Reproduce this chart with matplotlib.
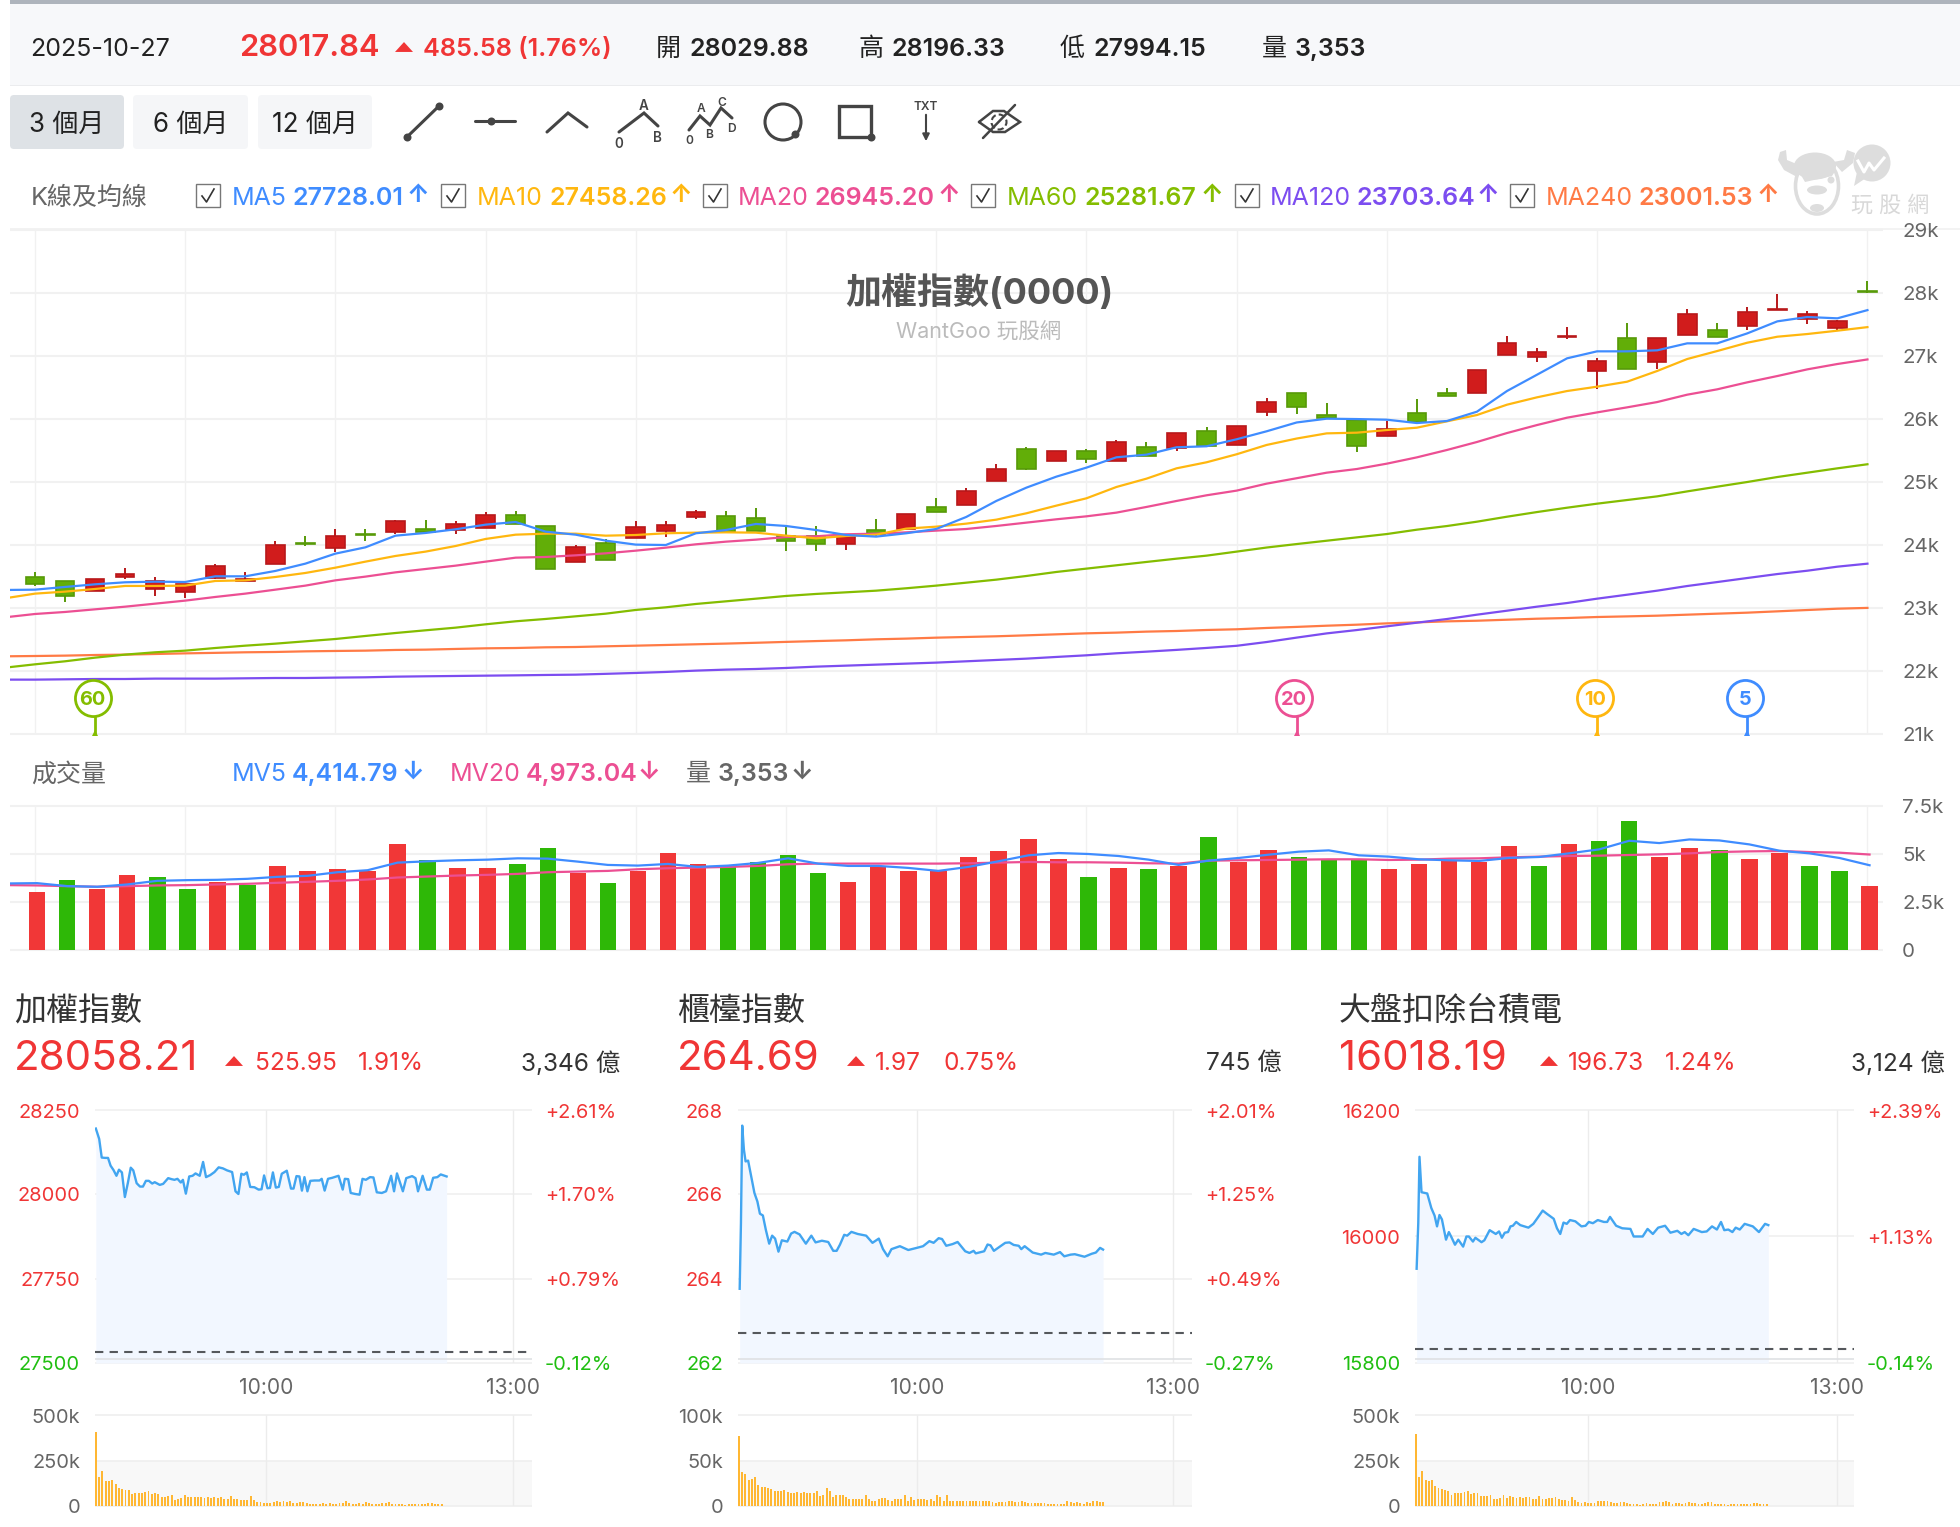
import numpy as np
import matplotlib
matplotlib.use('Agg')
import matplotlib.pyplot as plt
from matplotlib.patches import Rectangle, FancyBboxPatch, Ellipse, Polygon

plt.rcParams['font.family'] = ['Inter', 'Noto Sans CJK TC', 'DejaVu Sans']

W, H = 1960, 1527

RED = '#f03535'
GREEN = '#1fbf10'
C_MA5 = '#3f8cff'
C_MA10 = '#ffb70f'
C_MA20 = '#ec4f93'
C_MA60 = '#84bd00'
C_MA120 = '#7c4df0'
C_MA240 = '#ff7a45'
GRID = '#f1f1f1'

# daily k-line data
opens = [23487, 23424, 23270, 23498, 23302, 23249, 23476, 23434, 23699, 24027, 23958, 24170, 24207, 24260, 24238, 24270,
         24482, 24307, 23730, 24027, 24106, 24217, 24450, 24466, 24434, 24143, 24143, 24016, 24238, 24249, 24609, 24641,
         25016, 25524, 25334, 25498, 25334, 25551, 25535, 25805, 25593, 26106, 26408, 26063, 25984, 25730, 26095, 26407,
         26418, 27015, 26989, 27301, 26762, 27291, 26904, 27328, 27407, 27476, 27735, 27592, 27444, 28029.88]
closes = [23387, 23191, 23455, 23545, 23424, 23387, 23662, 23461, 23995, 24011, 24143, 24159, 24376, 24212, 24339, 24482,
          24328, 23619, 23969, 23762, 24281, 24318, 24524, 24212, 24217, 24069, 24016, 24143, 24170, 24492, 24529, 24863,
          25212, 25212, 25492, 25360, 25635, 25413, 25778, 25567, 25889, 26265, 26186, 26015, 25566, 25836, 25957, 26359,
          26777, 27206, 27063, 27322, 26915, 26793, 27291, 27661, 27301, 27693, 27746, 27661, 27550, 28017.84]
highs = [23572, 23424, 23455, 23630, 23487, 23387, 23693, 23572, 24059, 24143, 24260, 24260, 24402, 24402, 24376, 24519,
         24545, 24307, 24000, 24090, 24381, 24387, 24556, 24535, 24582, 24302, 24297, 24170, 24408, 24492, 24752, 24900,
         25291, 25556, 25492, 25524, 25672, 25635, 25778, 25868, 25889, 26328, 26408, 26259, 25984, 25963, 26322, 26497,
         26777, 27322, 27127, 27465, 26973, 27529, 27291, 27751, 27529, 27783, 27984, 27719, 27576, 28196.33]
lows = [23355, 23096, 23270, 23466, 23185, 23154, 23466, 23424, 23699, 23979, 23894, 24069, 24175, 24212, 24175, 24270,
        24328, 23619, 23730, 23762, 24106, 24133, 24418, 24212, 24217, 23900, 23900, 23921, 24143, 24249, 24529, 24641,
        25016, 25186, 25334, 25302, 25334, 25413, 25498, 25567, 25593, 26048, 26074, 26015, 25476, 25730, 25957, 26359,
        26418, 27015, 26904, 27269, 26471, 26793, 26793, 27328, 27301, 27412, 27735, 27502, 27402, 27994.15]

# moving averages, first entry is the session before the window
ma5 = [23286, 23291, 23334, 23376, 23408, 23418, 23413, 23503, 23503, 23588, 23704, 23863, 23963, 24148, 24191, 24249,
       24323, 24365, 24212, 24164, 24069, 24006, 24000, 24186, 24238, 24334, 24302, 24238, 24159, 24133, 24186, 24254,
       24445, 24699, 24910, 25085, 25228, 25392, 25434, 25551, 25567, 25678, 25805, 25945, 26005, 25999, 25989, 25936,
       25968, 26116, 26444, 26703, 26963, 27074, 27074, 27090, 27201, 27201, 27359, 27550, 27619, 27598, 27728.01]
ma10 = [23154, 23228, 23260, 23302, 23350, 23350, 23355, 23429, 23439, 23492, 23556, 23640, 23736, 23826, 23895, 23984,
        24096, 24164, 24180, 24180, 24148, 24159, 24186, 24196, 24201, 24196, 24149, 24106, 24143, 24164, 24260, 24291,
        24339, 24402, 24503, 24625, 24741, 24921, 25053, 25217, 25313, 25440, 25588, 25690, 25772, 25783, 25825, 25862,
        25963, 26063, 26227, 26344, 26444, 26513, 26592, 26762, 26952, 27079, 27211, 27306, 27349, 27402, 27458.26]
ma20 = [22852, 22905, 22937, 22979, 23021, 23069, 23117, 23175, 23228, 23291, 23355, 23439, 23498, 23566, 23619, 23672,
        23736, 23799, 23810, 23836, 23868, 23910, 23958, 24011, 24053, 24085, 24127, 24138, 24170, 24180, 24201, 24228,
        24254, 24302, 24355, 24408, 24455, 24514, 24604, 24699, 24789, 24863, 24974, 25060, 25148, 25206, 25291, 25391,
        25508, 25635, 25777, 25904, 26021, 26105, 26185, 26269, 26386, 26471, 26582, 26682, 26788, 26873, 26945.20]
ma60 = [22053, 22106, 22154, 22212, 22260, 22297, 22323, 22365, 22402, 22434, 22471, 22508, 22556, 22603, 22646, 22688,
        22741, 22789, 22826, 22868, 22910, 22969, 23011, 23064, 23106, 23148, 23191, 23223, 23249, 23275, 23313, 23355,
        23402, 23450, 23508, 23572, 23625, 23678, 23731, 23783, 23831, 23895, 23960, 24015, 24068, 24121, 24174, 24243,
        24301, 24370, 24449, 24523, 24592, 24656, 24714, 24772, 24851, 24926, 25000, 25079, 25148, 25217, 25281.67]
ma120 = [21863, 21863, 21868, 21873, 21873, 21879, 21879, 21879, 21884, 21889, 21889, 21895, 21900, 21910, 21916, 21921,
         21926, 21931, 21937, 21942, 21955, 21969, 21985, 22006, 22022, 22032, 22048, 22069, 22085, 22101, 22117, 22133,
         22154, 22175, 22196, 22223, 22249, 22281, 22307, 22335, 22366, 22400, 22460, 22530, 22597, 22650, 22709, 22767,
         22825, 22894, 22957, 23021, 23079, 23148, 23211, 23275, 23349, 23412, 23476, 23539, 23592, 23656, 23703.64]
ma240 = [22233, 22238, 22244, 22254, 22260, 22270, 22280, 22288, 22297, 22302, 22312, 22318, 22323, 22334, 22339, 22350,
         22360, 22365, 22376, 22381, 22392, 22402, 22413, 22424, 22435, 22448, 22462, 22475, 22487, 22503, 22514, 22529,
         22540, 22551, 22566, 22582, 22598, 22609, 22625, 22635, 22651, 22662, 22683, 22700, 22719, 22735, 22756, 22772,
         22788, 22798, 22814, 22830, 22841, 22857, 22867, 22878, 22894, 22910, 22926, 22947, 22968, 22989, 23001.53]

# daily volume; colour flag: 1 = red bar, 0 = green bar
volume = [3000, 3655, 3190, 3930, 3827, 3190, 3551, 3379, 4396, 4120, 4206, 4120, 5500, 4672, 4293, 4293, 4482, 5327,
          4017, 3465, 4120, 5051, 4482, 4396, 4569, 4948, 4017, 3551, 4396, 4120, 4120, 4862, 5137, 5793, 4758, 3827,
          4293, 4206, 4396, 5879, 4586, 5224, 4862, 4758, 4758, 4206, 4482, 4672, 4586, 5413, 4396, 5500, 5689, 6724,
          4862, 5327, 5224, 4758, 5034, 4396, 4120, 3353]
vol_up = [1, 0, 1, 1, 0, 0, 1, 0, 1, 1, 1, 1, 1, 0, 1, 1, 0, 0, 1, 0, 1, 1, 1, 0, 0, 0, 0, 1, 1, 1, 1, 1, 1, 1, 1, 0, 1,
          0, 1, 0, 1, 1, 0, 0, 0, 1, 1, 1, 1, 1, 0, 1, 0, 0, 1, 1, 0, 1, 1, 0, 0, 1]
mv5 = [3465, 3482, 3327, 3293, 3414, 3603, 3638, 3655, 3707, 3810, 3862, 4051, 4155, 4551, 4620, 4672, 4706, 4775, 4758,
       4603, 4431, 4396, 4482, 4327, 4396, 4534, 4775, 4500, 4379, 4379, 4276, 4120, 4327, 4620, 4931, 5051, 5000, 4896,
       4706, 4431, 4655, 4793, 4965, 5120, 5189, 4931, 4862, 4724, 4672, 4638, 4793, 4845, 5034, 5241, 5689, 5569, 5758,
       5706, 5500, 5172, 5034, 4793, 4414.79]
mv20 = [3379, 3362, 3327, 3293, 3327, 3362, 3379, 3414, 3448, 3500, 3551, 3603, 3672, 3776, 3827, 3879, 3914, 3965, 4051,
        4086, 4120, 4206, 4258, 4293, 4327, 4379, 4465, 4500, 4500, 4500, 4500, 4500, 4517, 4551, 4586, 4569, 4569, 4551,
        4517, 4500, 4655, 4672, 4689, 4706, 4724, 4724, 4689, 4706, 4758, 4775, 4827, 4862, 4896, 4913, 4948, 4982, 5034,
        5103, 5137, 5155, 5103, 5069, 4973.04]

grid_days = [0, 5, 10, 15, 20, 25, 30, 35, 40, 45, 52, 61]
price_ticks = [21000, 22000, 23000, 24000, 25000, 26000, 27000, 28000, 29000]
price_labels = ['21k', '22k', '23k', '24k', '25k', '26k', '27k', '28k', '29k']
vol_ticks = [0, 2500, 5000, 7500]
vol_labels = ['0', '2.5k', '5k', '7.5k']

# intraday panels
p1_t = [0, 8, 14, 22, 29, 35, 42, 49, 55, 62, 69, 76, 83, 89, 97, 105, 112, 119, 126, 134, 140, 152, 160, 172, 180, 187,
        194, 202, 207, 214, 222, 230, 237, 247, 255, 262, 272, 282, 292, 302, 312, 324, 332, 339, 346, 352, 359, 367,
        377, 387, 394, 400, 408, 414, 421, 428, 435, 442, 454, 464, 470, 477, 484, 490, 496, 503, 510, 520, 532, 537,
        544, 552, 562, 577, 587, 592, 600, 606, 617, 627, 634, 642, 652, 660, 668, 680, 690, 702, 709, 716, 730, 738,
        752, 760, 766, 777, 787, 794, 802, 812, 820, 834]
p1_v = [28195, 28164, 28109, 28108, 28108, 28085, 28072, 28055, 28073, 28065, 27992, 28033, 28079, 28071, 28033, 28023,
        28023, 28040, 28040, 28032, 28036, 28028, 28031, 28048, 28045, 28043, 28046, 28035, 28043, 28002, 28053, 28055,
        28062, 28055, 28096, 28051, 28057, 28066, 28080, 28077, 28071, 28066, 28009, 28001, 28061, 28058, 28065, 28022,
        28021, 28014, 28015, 28056, 28018, 28019, 28065, 28020, 28022, 28061, 28070, 28017, 28017, 28054, 28053, 28011,
        28051, 28009, 28040, 28041, 28041, 28046, 28011, 28046, 28049, 28055, 28014, 28046, 28045, 28004, 28001, 27999,
        28046, 28043, 28051, 28050, 28006, 28004, 28009, 28055, 28009, 28062, 28009, 28048, 28054, 28048, 28009, 28055,
        28014, 28014, 28049, 28051, 28059, 28053]
p1_bars = [404, 162, 194, 137, 137, 143, 122, 100, 94, 90, 90, 68, 71, 71, 71, 77, 83, 66, 71, 68, 51, 51, 53, 60, 34, 38,
           43, 60, 47, 51, 51, 49, 51, 45, 49, 43, 49, 43, 49, 41, 38, 53, 41, 38, 34, 34, 34, 53, 34, 23, 21, 19, 19,
           19, 23, 28, 23, 28, 23, 28, 15, 19, 21, 21, 15, 9, 9, 9, 13, 15, 9, 19, 11, 13, 19, 19, 30, 19, 13, 9, 19, 11,
           21, 19, 13, 9, 11, 19, 19, 21, 9, 9, 9, 9, 4, 11, 9, 9, 9, 11, 9, 15, 19, 9, 9, 9]

p2_t = [0, 3, 6, 10, 14, 20, 28, 35, 42, 48, 55, 62, 70, 77, 84, 92, 100, 113, 122, 130, 142, 157, 170, 180, 195, 210, 222,
        230, 238, 248, 255, 265, 280, 300, 315, 330, 340, 351, 360, 380, 400, 420, 435, 450, 460, 472, 480, 490, 505, 517,
        535, 545, 555, 560, 580, 588, 595, 603, 620, 630, 640, 650, 662, 668, 676, 695, 715, 725, 745, 760, 770, 785, 795,
        818, 835, 845, 855, 862]
p2_v = [263.76, 265.32, 267.63, 267.06, 266.78, 266.80, 266.39, 266.03, 265.83, 265.54, 265.50, 265.16, 264.83, 265.02,
        264.95, 264.64, 264.91, 264.88, 265.07, 265.11, 265.05, 264.83, 265.02, 264.86, 264.90, 264.87, 264.66, 264.66,
        264.81, 265.04, 265.02, 265.11, 265.06, 265.02, 264.85, 264.95, 264.70, 264.53, 264.70, 264.77, 264.68, 264.73,
        264.77, 264.89, 264.85, 264.96, 264.94, 264.78, 264.82, 264.87, 264.65, 264.61, 264.66, 264.60, 264.65, 264.81,
        264.79, 264.66, 264.78, 264.85, 264.86, 264.80, 264.78, 264.70, 264.77, 264.62, 264.57, 264.61, 264.57, 264.63,
        264.53, 264.57, 264.58, 264.52, 264.59, 264.62, 264.73, 264.69]
p2_bars = [77, 37, 35, 29, 30, 32, 23, 21, 21, 20, 19, 17, 17, 17, 18, 15, 14, 14, 15, 14, 15, 14, 14, 14, 17, 11, 12, 20,
           17, 10, 12, 12, 12, 10, 8, 8, 8, 8, 8, 12, 8, 6, 6, 8, 9, 9, 7, 6, 8, 8, 8, 12, 6, 10, 7, 8, 8, 8, 7, 8, 6, 12,
           10, 6, 12, 5, 6, 6, 5, 5, 5, 5, 6, 5, 6, 5, 5, 6, 4, 3, 4, 4, 4, 5, 5, 4, 4, 5, 4, 3, 3, 3, 3, 3, 3, 2, 2, 2, 2,
           2, 2, 6, 4, 3, 4, 3, 2, 4, 3, 6, 5, 4, 4]

p3_t = [0, 4, 7, 12, 26, 36, 44, 50, 56, 62, 72, 79, 86, 94, 102, 114, 122, 128, 138, 144, 159, 166, 179, 194, 202, 209,
        216, 224, 230, 236, 244, 254, 274, 286, 296, 309, 319, 336, 344, 352, 360, 368, 376, 389, 404, 414, 422, 432, 444,
        459, 467, 474, 489, 504, 524, 532, 554, 566, 579, 592, 609, 622, 639, 649, 657, 666, 679, 699, 711, 724, 736, 746,
        754, 764, 774, 782, 792, 804, 824, 839, 854, 862]
p3_v = [15949, 16021, 16126, 16070, 16068, 16045, 16033, 16016, 16034, 16027, 15995, 16007, 15998, 15987, 15995, 15984,
        16000, 16000, 15992, 15998, 15991, 15994, 16010, 16004, 16008, 15998, 16006, 16007, 16016, 16017, 16023, 16018,
        16014, 16020, 16029, 16041, 16036, 16028, 16013, 16004, 16022, 16020, 16026, 16024, 16016, 16017, 16023, 16021,
        16026, 16023, 16023, 16031, 16017, 16013, 16012, 16000, 16000, 16012, 16004, 16014, 16017, 16006, 16009, 16004,
        16007, 16002, 16012, 16007, 16008, 16016, 16011, 16023, 16010, 16011, 16007, 16014, 16011, 16020, 16016, 16007,
        16020, 16018]
p3_bars = [395, 162, 194, 143, 135, 143, 109, 100, 94, 90, 81, 62, 71, 71, 71, 75, 83, 68, 71, 71, 56, 53, 53, 60, 38, 41,
           45, 60, 45, 53, 49, 45, 49, 45, 49, 49, 41, 41, 53, 41, 38, 45, 45, 51, 41, 34, 34, 30, 51, 34, 23, 19, 21, 19,
           19, 19, 28, 26, 28, 28, 23, 15, 19, 21, 21, 19, 11, 9, 9, 8, 13, 15, 9, 13, 13, 23, 23, 30, 21, 13, 19, 19, 11,
           15, 23, 15, 19, 13, 11, 19, 21, 21, 13, 11, 11, 9, 6, 11, 11, 9, 13, 9, 13, 9, 15, 19, 9, 9, 9]

fig = plt.figure(figsize=(W / 100, H / 100), dpi=100, facecolor='white')

# page layer in pixel coordinates, used for the text and toolbar around the charts
ui = fig.add_axes([0, 0, 1, 1])
ui.set_xlim(0, W)
ui.set_ylim(H, 0)
ui.axis('off')


def fs(px):
    return px * 0.72


def label(x, y, s, size, color='#222222', weight='normal', ha='left'):
    return ui.text(x, y, s, fontsize=fs(size), color=color, fontweight=weight, ha=ha, va='center_baseline')


def box_axes(left, top, right, bottom):
    ax = fig.add_axes([left / W, 1 - bottom / H, (right - left) / W, (bottom - top) / H])
    ax.patch.set_alpha(0)
    for s in ax.spines.values():
        s.set_visible(False)
    return ax


def up_triangle(x, y, size, color):
    ui.add_patch(Polygon([(x - size, y + size * 0.55), (x + size, y + size * 0.55), (x, y - size * 0.55)],
                         closed=True, color=color, lw=0))


# header strip
ui.add_patch(Rectangle((10, 0), W - 10, 3.5, color='#aeb4bc', lw=0))
ui.add_patch(Rectangle((10, 3.5), W - 10, 81, color='#f7f8fa', lw=0))
ui.add_patch(Rectangle((10, 84.5), W - 10, 1.5, color='#ebecee', lw=0))
ui.add_patch(Rectangle((10, 228), W - 10, 1.5, color='#f3f3f3', lw=0))

label(30, 47, '2025-10-27', 25, '#222222')
label(239, 45, '28017.84', 31, RED, 'semibold')
up_triangle(404, 47, 9, RED)
label(423, 47, '485.58 (1.76%)', 25.2, RED, 'semibold')
label(656, 47, '開', 25, '#222222')
label(689, 47, '28029.88', 25, '#222222', 'semibold')
label(858, 47, '高', 25, '#222222')
label(891, 47, '28196.33', 25, '#222222', 'semibold')
label(1060, 47, '低', 25, '#222222')
label(1093, 47, '27994.15', 25, '#222222', 'semibold')
label(1262, 47, '量', 25, '#222222')
label(1295, 47, '3,353', 25, '#222222', 'semibold')

# range buttons
for (x0, x1, bg, txt) in [(10, 124, '#dee2e6', '3 個月'), (133, 248, '#f5f6f8', '6 個月'), (258, 372, '#f5f6f8', '12 個月')]:
    ui.add_patch(FancyBboxPatch((x0 + 4, 99), x1 - x0 - 8, 46, boxstyle='round,pad=4', fc=bg, ec='none'))
    label((x0 + x1) / 2, 122, txt, 26, '#222222', ha='center')

# drawing tools
ICON = '#444444'


def icon_line(xs, ys, lw=2.2):
    ui.plot(xs, ys, color=ICON, lw=lw, solid_capstyle='round', solid_joinstyle='miter')


def icon_dot(x, y, r=4):
    ui.plot([x], [y], 'o', color=ICON, ms=r * 1.44, mew=0)


icon_line([407, 439], [137, 106])
icon_dot(407, 137)
icon_dot(439, 106)
icon_line([475, 515], [121, 121])
icon_dot(491, 121)
icon_line([547, 568, 587], [132, 113, 127])
icon_line([619, 644, 658], [132, 113, 126])
for x, y, s in [(644, 104, 'A'), (619, 142, '0'), (657, 136, 'B')]:
    label(x, y, s, 13.5, ICON, 'semibold', ha='center')
icon_line([689, 700, 710, 721, 732], [130, 116, 125, 108, 118])
for x, y, s in [(701, 108, 'A'), (722, 101, 'C'), (689, 139, '0'), (709, 133, 'B'), (731, 127, 'D')]:
    label(x, y, s, 12, ICON, 'semibold', ha='center')
ui.add_patch(Ellipse((783, 122), 36, 36, fc='none', ec=ICON, lw=2.2))
icon_dot(795, 134)
ui.add_patch(Rectangle((839, 106), 32, 31, fc='none', ec=ICON, lw=2.4))
icon_dot(871, 137)
label(926, 105, 'TXT', 12, ICON, 'semibold', ha='center')
ui.annotate('', xy=(926, 144), xytext=(926, 112), arrowprops=dict(arrowstyle='-|>', color=ICON, lw=1.5, mutation_scale=10))
icon_line([979, 993, 1004, 1020, 1005, 993, 979], [122, 111, 111, 122, 132, 132, 122], lw=1.8)
ui.add_patch(Ellipse((999, 122), 15, 15, fc='none', ec=ICON, lw=1.5, ls=(0, (3, 1.5))))
icon_line([983, 1015], [138, 105], lw=1.8)

# watermark
WM = '#dddddd'
ui.add_patch(Polygon([(1780, 152), (1786, 150), (1787, 160), (1799, 165), (1797, 177), (1784, 170), (1778, 160)],
                     closed=True, fc=WM, ec='none'))
ui.add_patch(Polygon([(1847, 150), (1855, 153), (1853, 163), (1842, 172), (1833, 162), (1844, 160)],
                     closed=True, fc=WM, ec='none'))
ui.add_patch(Ellipse((1817, 186), 43, 56, fc='white', ec=WM, lw=2.6))
ui.add_patch(Ellipse((1815, 166), 42, 27, fc=WM, ec='none'))
ui.add_patch(Polygon([(1798, 170), (1836, 170), (1832, 176), (1805, 182)], closed=True, fc=WM, ec='none'))
ui.add_patch(Ellipse((1831, 180), 7, 7, fc=WM, ec='none'))
ui.add_patch(Ellipse((1817, 190), 20, 9, fc=WM, ec='none'))
ui.add_patch(Ellipse((1817, 208), 14, 8, fc=WM, ec='none'))
ui.add_patch(Ellipse((1872, 163), 37, 37, fc=WM, ec='none'))
ui.add_patch(Polygon([(1857, 172), (1854, 186), (1866, 178)], closed=True, fc=WM, ec='none'))
ui.plot([1858, 1864, 1869, 1874, 1884], [161, 172, 163, 170, 158], color='white', lw=2.2)
label(1890, 203, '玩 股 網', 22, '#d8d8d8', ha='center')

# moving average legend
label(31, 196, 'K線及均線', 25, '#666666')
ma_legend = [
    (196, 232, 292, 418, 'MA5', '27728.01', C_MA5),
    (441, 477, 549, 681, 'MA10', '27458.26', C_MA10),
    (703, 738, 814, 949, 'MA20', '26945.20', C_MA20),
    (971, 1007, 1084, 1212, 'MA60', '25281.67', C_MA60),
    (1235, 1270, 1356, 1488, 'MA120', '23703.64', C_MA120),
    (1510, 1546, 1638, 1768, 'MA240', '23001.53', C_MA240),
]
for xb, xn, xv, xa, name, val, col in ma_legend:
    ui.add_patch(Rectangle((xb, 184), 24, 23, fc='white', ec='#777777', lw=1))
    ui.plot([xb + 6, xb + 10.5, xb + 18], [196, 202, 189], color='#333333', lw=1.2)
    label(xn, 196, name, 25, col)
    label(xv, 196, val, 25, col, 'semibold')
    label(xa, 193, '↑', 25, col, 'bold', ha='center')

# candlestick panel
ax = box_axes(10, 230, 1883, 734)
days = np.arange(len(opens))
per_day = 30.04
ax.set_xlim((10 - 35) / per_day, (1883 - 35) / per_day)
ax.set_ylim(21000, 29000)
ax.set_yticks(price_ticks, price_labels)
ax.set_xticks([])
ax.yaxis.tick_right()
ax.tick_params(axis='y', length=0, pad=fs(19), labelsize=fs(20.5), labelcolor='#666666')
ax.hlines(price_ticks, *ax.get_xlim(), color=GRID, lw=1.5, clip_on=False, zorder=0)
ax.vlines(grid_days, 21000, 29000, color=GRID, lw=1, zorder=0)

ax.text(979, 290, '加權指數(0000)', fontsize=fs(36), color='#555555', fontweight='bold', ha='center',
        va='center_baseline', transform=ui.transData, zorder=1)
ax.text(979, 330, 'WantGoo 玩股網', fontsize=fs(21.5), color='#bbbbbb', ha='center', va='center_baseline',
        transform=ui.transData, zorder=1)

for i in days:
    up = closes[i] > opens[i]
    wick = '#b8181a' if up else '#579a08'
    body = '#d11c1c' if up else '#62ae08'
    ax.vlines(i, lows[i], highs[i], color=wick, lw=1.4, zorder=2)
    ax.bar(i, abs(closes[i] - opens[i]), bottom=min(opens[i], closes[i]), width=0.62, color=body, edgecolor=wick,
           linewidth=1.2, zorder=3)

ma_days = np.arange(-1, len(opens))
for series, col in [(ma240, C_MA240), (ma120, C_MA120), (ma60, C_MA60), (ma20, C_MA20), (ma10, C_MA10), (ma5, C_MA5)]:
    ax.plot(ma_days, series, color=col, lw=1.6, zorder=4)

# crossover badges at the foot of the panel
for day, txt, col in [(2, '60', C_MA60), (42, '20', C_MA20), (52, '10', C_MA10), (57, '5', C_MA5)]:
    ax.plot([day, day], [21000, 21300], color=col, lw=2, zorder=5)
    ax.plot([day], [21020], '^', color=col, ms=4, mew=0, zorder=5, clip_on=False)
    ax.plot([day - 0.08], [21575], 'o', ms=26, mfc='white', mec=col, mew=2, zorder=5)
    ax.text(day - 0.08, 21575, txt, color=col, fontsize=fs(20), fontweight='bold', ha='center', va='center_baseline', zorder=6)

# volume panel
label(31, 772, '成交量', 25, '#666666')
vol_legend = [
    (232, 292, 413, 'MV5', '4,414.79', C_MA5),
    (450, 526, 649, 'MV20', '4,973.04', C_MA20),
    (686, 718, 802, '量', '3,353', '#666666'),
]
for xn, xv, xa, name, val, col in vol_legend:
    label(xn, 772, name, 25, col)
    label(xv, 772, val, 25, col, 'semibold')
    label(xa, 770, '↓', 25, col, 'bold', ha='center')

av = box_axes(10, 806, 1883, 950)
av.set_xlim(ax.get_xlim())
av.set_ylim(0, 7500)
av.set_yticks(vol_ticks, vol_labels)
av.set_xticks([])
av.yaxis.tick_right()
av.tick_params(axis='y', length=0, pad=fs(19), labelsize=fs(20.5), labelcolor='#666666')
av.hlines(vol_ticks, *av.get_xlim(), color=GRID, lw=1.5, clip_on=False, zorder=0)
av.vlines(grid_days, 0, 7500, color=GRID, lw=1, zorder=0)
vol_shift = 0.07
av.bar(days + vol_shift, volume, width=0.55, color=['#f13737' if u else '#2eb807' for u in vol_up], lw=0, zorder=2)
av.plot(ma_days + vol_shift, mv5, color=C_MA5, lw=1.6, zorder=4)
av.plot(ma_days + vol_shift, mv20, color=C_MA20, lw=1.6, zorder=3)


def mini_panel(x_left, x_right, x_ylab, x_pct, xlim, grid_t, bar_t, t, vals, bars, y_ticks, y_text, pct_text, ymin, ymax,
               prev_close, bar_top):
    a = box_axes(x_left, 1110, x_right, 1363)
    a.set_xlim(*xlim)
    a.set_ylim(ymin, ymax)
    a.set_xticks(grid_t, ['10:00', '13:00'])
    a.tick_params(axis='x', length=0, pad=fs(14.5), labelsize=fs(21), labelcolor='#666666')
    a.set_yticks([])
    a.hlines(y_ticks, *xlim, color='#f0f0f0', lw=1.2, clip_on=False, zorder=0)
    a.axhline(ymin + (ymax - ymin) * 0.016, color='#dfe1e4', lw=1.2, zorder=1)
    a.vlines(grid_t, ymin, ymax, color='#ececec', lw=1, zorder=0)
    a.fill_between(t, vals, ymin, color='#f2f7ff', lw=0, zorder=0.5)
    a.plot(t, vals, color='#42a5f0', lw=1.7, zorder=3)
    a.axhline(prev_close, color='#55585c', lw=1.5, dashes=(4, 3), zorder=2)
    for v, s, p in zip(y_ticks, y_text, pct_text):
        col = RED if v > prev_close else GREEN
        y_px = 1363 - (v - ymin) / (ymax - ymin) * 253
        if v == ymax:
            y_px += 1
        label(x_ylab, y_px, s, 20, col, ha='right')
        label(x_pct, y_px, p, 20, col)

    b = box_axes(x_left, 1415, x_right, 1506)
    b.set_xlim(*xlim)
    b.set_ylim(0, bar_top)
    b.set_xticks([])
    b.set_yticks([])
    b.axhspan(0, bar_top / 2, color='#f8f8f8', lw=0, zorder=0)
    b.hlines([0, bar_top / 2, bar_top], *xlim, color='#efefef', lw=1.2, clip_on=False, zorder=1)
    b.vlines(grid_t, 0, bar_top, color='#ececec', lw=1, zorder=1)
    b.bar(bar_t, bars, width=4.6, color='#ffb733', lw=0, zorder=2)


# first intraday panel
mini_panel(95, 532, 80, 545, (-2, 1037), [404, 991], np.linspace(0, 822, len(p1_bars)), p1_t, p1_v, p1_bars,
           [27500, 27750, 28000, 28250], ['27500', '27750', '28000', '28250'], ['-0.12%', '+0.79%', '+1.70%', '+2.61%'],
           27500, 28250, 28058.21 - 525.95, 500)
# second intraday panel
mini_panel(738, 1192, 723, 1205, (-4, 1073), [420, 1028], np.linspace(-2, 862, len(p2_bars)), p2_t, p2_v, p2_bars,
           [262, 264, 266, 268], ['262', '264', '266', '268'], ['-0.27%', '+0.49%', '+1.25%', '+2.01%'],
           262, 268, 264.69 - 1.97, 100)
# third intraday panel
mini_panel(1415, 1854, 1400, 1867, (-4, 1072), [420, 1030], np.linspace(-2, 858, len(p3_bars)), p3_t, p3_v, p3_bars,
           [15800, 16000, 16200], ['15800', '16000', '16200'], ['-0.14%', '+1.13%', '+2.39%'],
           15800, 16200, 16018.19 - 196.73, 500)

for x, vals in [(80, ['500k', '250k', '0']), (723, ['100k', '50k', '0']), (1400, ['500k', '250k', '0'])]:
    for y, s in zip([1416, 1461, 1506], vals):
        label(x, y, s, 20, '#666666', ha='right')

# index summaries above the intraday panels
summaries = [
    (14, 234, 255, 358, 620, '加權指數', '28058.21', '525.95', '1.91%', '3,346 億'),
    (677, 856, 875, 943, 1282, '櫃檯指數', '264.69', '1.97', '0.75%', '745 億'),
    (1339, 1549, 1568, 1665, 1945, '大盤扣除台積電', '16018.19', '196.73', '1.24%', '3,124 億'),
]
for x0, xt, xc, xp, xr, name, val, chg, pct, amt in summaries:
    label(x0, 1008, name, 32, '#333333')
    label(x0, 1055, val, 42, RED)
    up_triangle(xt, 1061, 9, RED)
    label(xc, 1061, chg, 24.5, RED)
    label(xp, 1061, pct, 24.5, RED)
    label(xr, 1061, amt, 24.5, '#333333', ha='right')

fig.savefig('out.png', dpi=100)
